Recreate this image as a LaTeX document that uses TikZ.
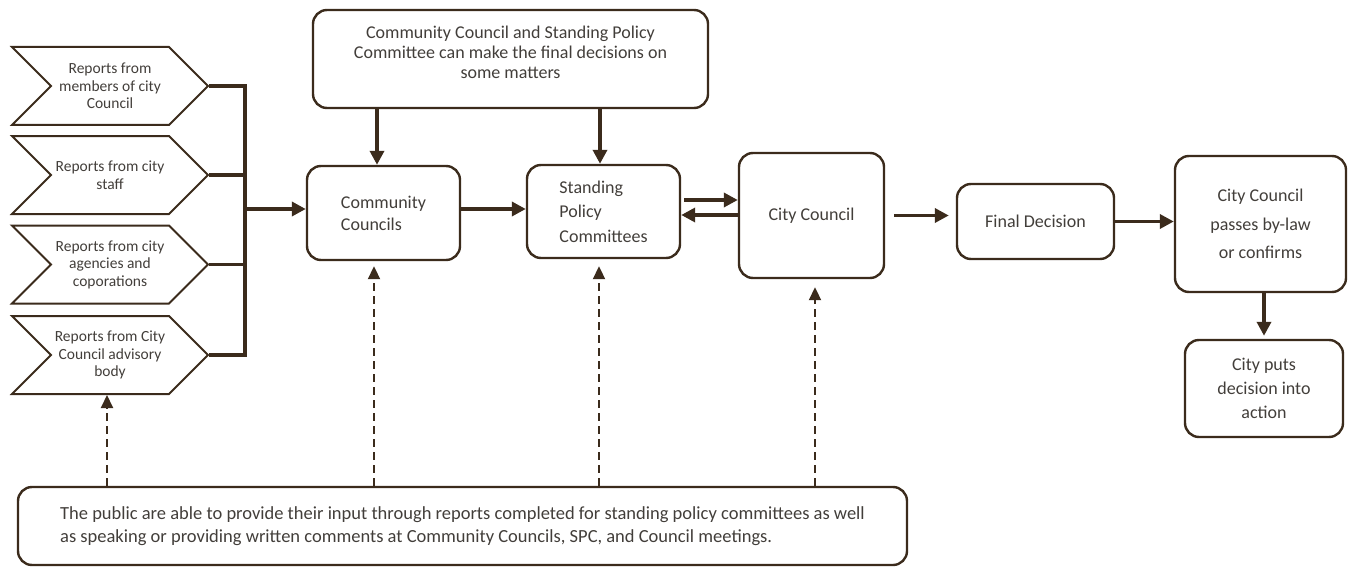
\documentclass[tikz,border=0pt]{standalone}
\usepackage{fontspec}
\setmainfont{Carlito}
\usetikzlibrary{arrows.meta, shapes.symbols, positioning}
\definecolor{linebrown}{RGB}{59,43,28}
\definecolor{textgrey}{RGB}{66,62,58}

\begin{document}
\begin{tikzpicture}[x=1pt, y=-1pt,
	stepbox/.style={draw=linebrown, line width=2.4pt, rounded corners=14pt, text=textgrey, align=center, inner sep=0pt, font=\fontsize{18}{22}\selectfont},
	report/.style={signal, signal from=west, signal to=east, draw=linebrown, line width=2pt, text=textgrey, align=center, minimum width=196pt, minimum height=78pt, inner sep=0pt, font=\fontsize{15.5}{17.5}\selectfont},
	wire/.style={draw=linebrown, line width=3.5pt},
	flow/.style={wire, -{Triangle[length=14pt, width=14pt]}},
	pubflow/.style={draw=linebrown, line width=2pt, dash pattern=on 8pt off 5pt, -{Triangle[length=13pt, width=12pt]}}]
	\useasboundingbox (0,0) rectangle (1351,567);

	% reports
	\node[report] (r1) at (110,86) {Reports from\\members of city\\Council};
	\node[report] (r2) at (110,175) {Reports from city\\staff};
	\node[report] (r3) at (110,264.5) {Reports from city\\agencies and\\coporations};
	\node[report] (r4) at (110,355) {Reports from City\\Council advisory\\body};

	% steps
	\node[stepbox, minimum width=395pt, minimum height=98pt, font=\fontsize{18}{20}\selectfont] (top) at (510.5,59) {\raisebox{4pt}[\height][\depth]{\begin{tabular}{@{}c@{}}Community Council and Standing Policy\\Committee can make the final decisions on\\some matters\end{tabular}}};
	\node[stepbox, align=left, minimum width=153pt, minimum height=94pt] (cc) at (383.5,213) {Community\\Councils};
	\node[stepbox, align=left, minimum width=153pt, minimum height=93pt, font=\fontsize{18}{24.5}\selectfont] (spc) at (603.5,211.5) {Standing\\Policy\\Committees};
	\node[stepbox, minimum width=145pt, minimum height=125pt] (city) at (811.5,215.5) {City Council};
	\node[stepbox, minimum width=157pt, minimum height=75pt] (final) at (1035.5,221.5) {Final Decision};
	\node[stepbox, minimum width=171pt, minimum height=136pt, font=\fontsize{18}{28.5}\selectfont] (bylaw) at (1260.5,224) {City Council\\passes by-law\\or confirms};
	\node[stepbox, minimum width=158pt, minimum height=97pt, font=\fontsize{18}{24}\selectfont] (action) at (1264,388.5) {City puts\\decision into\\action};
	\node[stepbox, align=left, minimum width=889pt, minimum height=78pt, font=\fontsize{18.5}{23}\selectfont] (public) at (462.5,526) {The public are able to provide their input through reports completed for standing policy committees as well\\as speaking or providing written comments at Community Councils, SPC, and Council meetings.};

	% reports joined
	\coordinate (bus) at (245,0);
	\draw[wire] (r1.east) -- (r1.east -| bus) -- (r4.east -| bus) -- (r4.east);
	\draw[wire] (r2.east) -- (r2.east -| bus);
	\draw[wire] (r3.east) -- (r3.east -| bus);
	\draw[flow] ([yshift=4pt]cc.west -| bus) -- ([yshift=4pt]cc.west);

	% arrows
	\draw[flow] ([xshift=-6.5pt]cc.north |- top.south) -- ([xshift=-6.5pt]cc.north);
	\draw[flow] ([xshift=-3.5pt]spc.north |- top.south) -- ([xshift=-3.5pt]spc.north);
	\draw[flow] ([yshift=4pt]cc.east) -- ([yshift=4pt]cc.east -| spc.west);
	\draw[flow] ([xshift=3pt, yshift=11.5pt]spc.east) -- ([yshift=11.5pt]spc.east -| city.west);
	\draw[flow] ([yshift=-3.5pt]spc.east -| city.west) -- ([yshift=-3.5pt]spc.east);
	\draw[flow, shorten <=9pt, shorten >=7pt] (city.east) -- (city.east -| final.west);
	\draw[flow] (final.east) -- (final.east -| bylaw.west);
	\draw[flow, shorten >=3pt] (action.north |- bylaw.south) -- (action.north);

	% public input
	\draw[pubflow] ([xshift=-3pt]r4.south |- public.north) -- ([xshift=-3pt]r4.south);
	\draw[pubflow, shorten >=5pt] ([xshift=-9.5pt]cc.south |- public.north) -- ([xshift=-9.5pt]cc.south);
	\draw[pubflow, shorten >=7pt] ([xshift=-4.5pt]spc.south |- public.north) -- ([xshift=-4.5pt]spc.south);
	\draw[pubflow, shorten >=8pt] ([xshift=3.5pt]city.south |- public.north) -- ([xshift=3.5pt]city.south);
\end{tikzpicture}
\end{document}
